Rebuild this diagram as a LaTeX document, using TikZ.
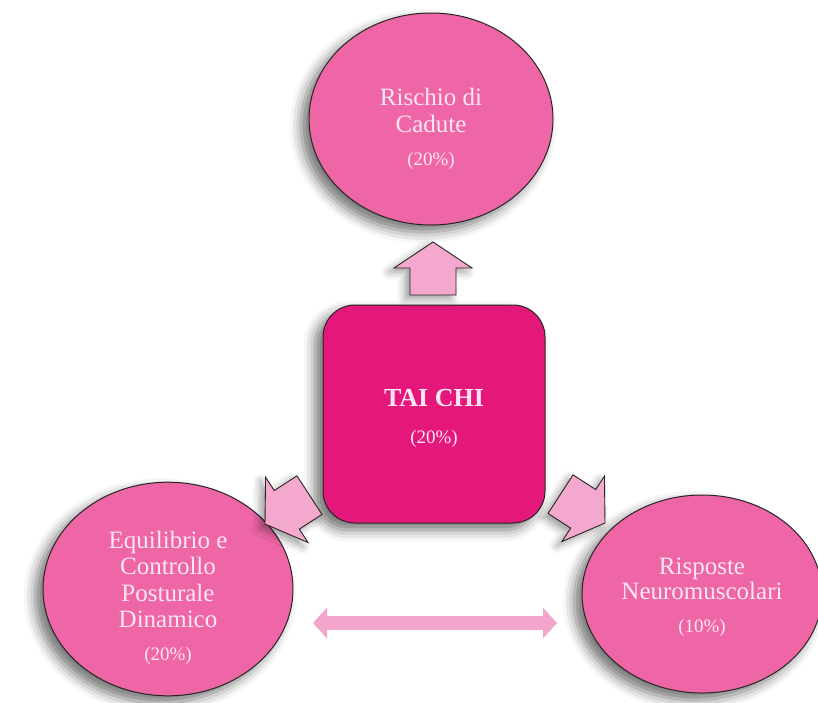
\documentclass[tikz,border=0pt]{standalone}
\usepackage{fontspec}
\setmainfont{Liberation Serif}
\usetikzlibrary{shapes.geometric,shadows.blur,arrows.meta}

\definecolor{bubblepink}{HTML}{EE66A6}
\definecolor{corepink}{HTML}{E4177B}
\definecolor{arrowpink}{HTML}{F5A8CD}
\definecolor{linkpink}{HTML}{F3A5CB}
\definecolor{lettering}{HTML}{FCE6F2}

% percentage line under each label
\newcommand\pctline[1]{{\fontsize{19}{21}\selectfont(#1\%)}}
% invisible strut that pushes a label block downwards inside its shape
\newcommand\topstrut[1]{\rule{0pt}{#1}}

\tikzset{
  softshadow/.style={blur shadow={shadow xshift=-8pt, shadow yshift=-7pt,
      shadow blur radius=11pt, shadow opacity=55}},
  bubble/.style={ellipse, draw=black!85, line width=1pt, fill=bubblepink,
      softshadow, inner sep=0pt, align=center, text=lettering,
      font=\fontsize{25}{27}\selectfont},
  corebox/.style={rectangle, rounded corners=32pt, draw=black!85, line width=1pt,
      fill=corepink, softshadow, inner sep=0pt, align=center, text=lettering,
      font=\fontsize{26}{27}\selectfont},
  blockarrowstyle/.style={draw=black!85, line width=0.9pt, fill=arrowpink,
      line join=miter, blur shadow={shadow xshift=-5pt, shadow yshift=-4pt,
      shadow blur radius=8pt, shadow opacity=40}},
  pics/blockarrow/.style={code={
      \draw[blockarrowstyle] (0,0) -- (-26,39) -- (-26,23) -- (-53,23)
        -- (-53,-23) -- (-26,-23) -- (-26,-39) -- cycle;}},
  link/.style={draw=linkpink, line width=14pt,
      {Triangle[length=14pt,width=30pt]}-{Triangle[length=14pt,width=30pt]}}
}

\begin{document}
\begin{tikzpicture}[x=1pt, y=-1pt]
  \useasboundingbox (0,0) rectangle (818,702);

  % outcome bubbles
  \node[bubble, minimum width=244pt, minimum height=212pt] (falls) at (431,119)
    {\topstrut{37pt}Rischio di\\Cadute\\[6pt]\pctline{20}};
  \node[bubble, minimum width=250pt, minimum height=208pt,
        font=\fontsize{25}{26.5}\selectfont] (balance) at (168,589)
    {\topstrut{35pt}Equilibrio e\\Controllo\\Posturale\\Dinamico\\[6pt]\pctline{20}};
  \node[bubble, minimum width=240pt, minimum height=198pt,
        font=\fontsize{25}{25.5}\selectfont] (neuro) at (702,594)
    {\topstrut{23pt}Risposte\\Neuromuscolari\\[7pt]\pctline{10}};

  % central practice box
  \node[corebox, minimum width=222pt, minimum height=218pt] (taichi) at (434,414)
    {\topstrut{27pt}\textbf{TAI CHI}\\[10pt]\pctline{20}};

  % block arrows from the box towards each outcome
  \coordinate (tipUp) at (433,242);
  \coordinate (tipLeft) at (265,524);
  \coordinate (tipRight) at (605,523);
  \pic[rotate=90] at (tipUp) {blockarrow};
  \pic[rotate=213] at (tipLeft) {blockarrow};
  \pic[rotate=-33] at (tipRight) {blockarrow};

  % two-way link between the lower bubbles
  \coordinate (linkL) at (313,623);
  \coordinate (linkR) at (557,623);
  \draw[link] (linkL) -- (linkR);
\end{tikzpicture}
\end{document}
